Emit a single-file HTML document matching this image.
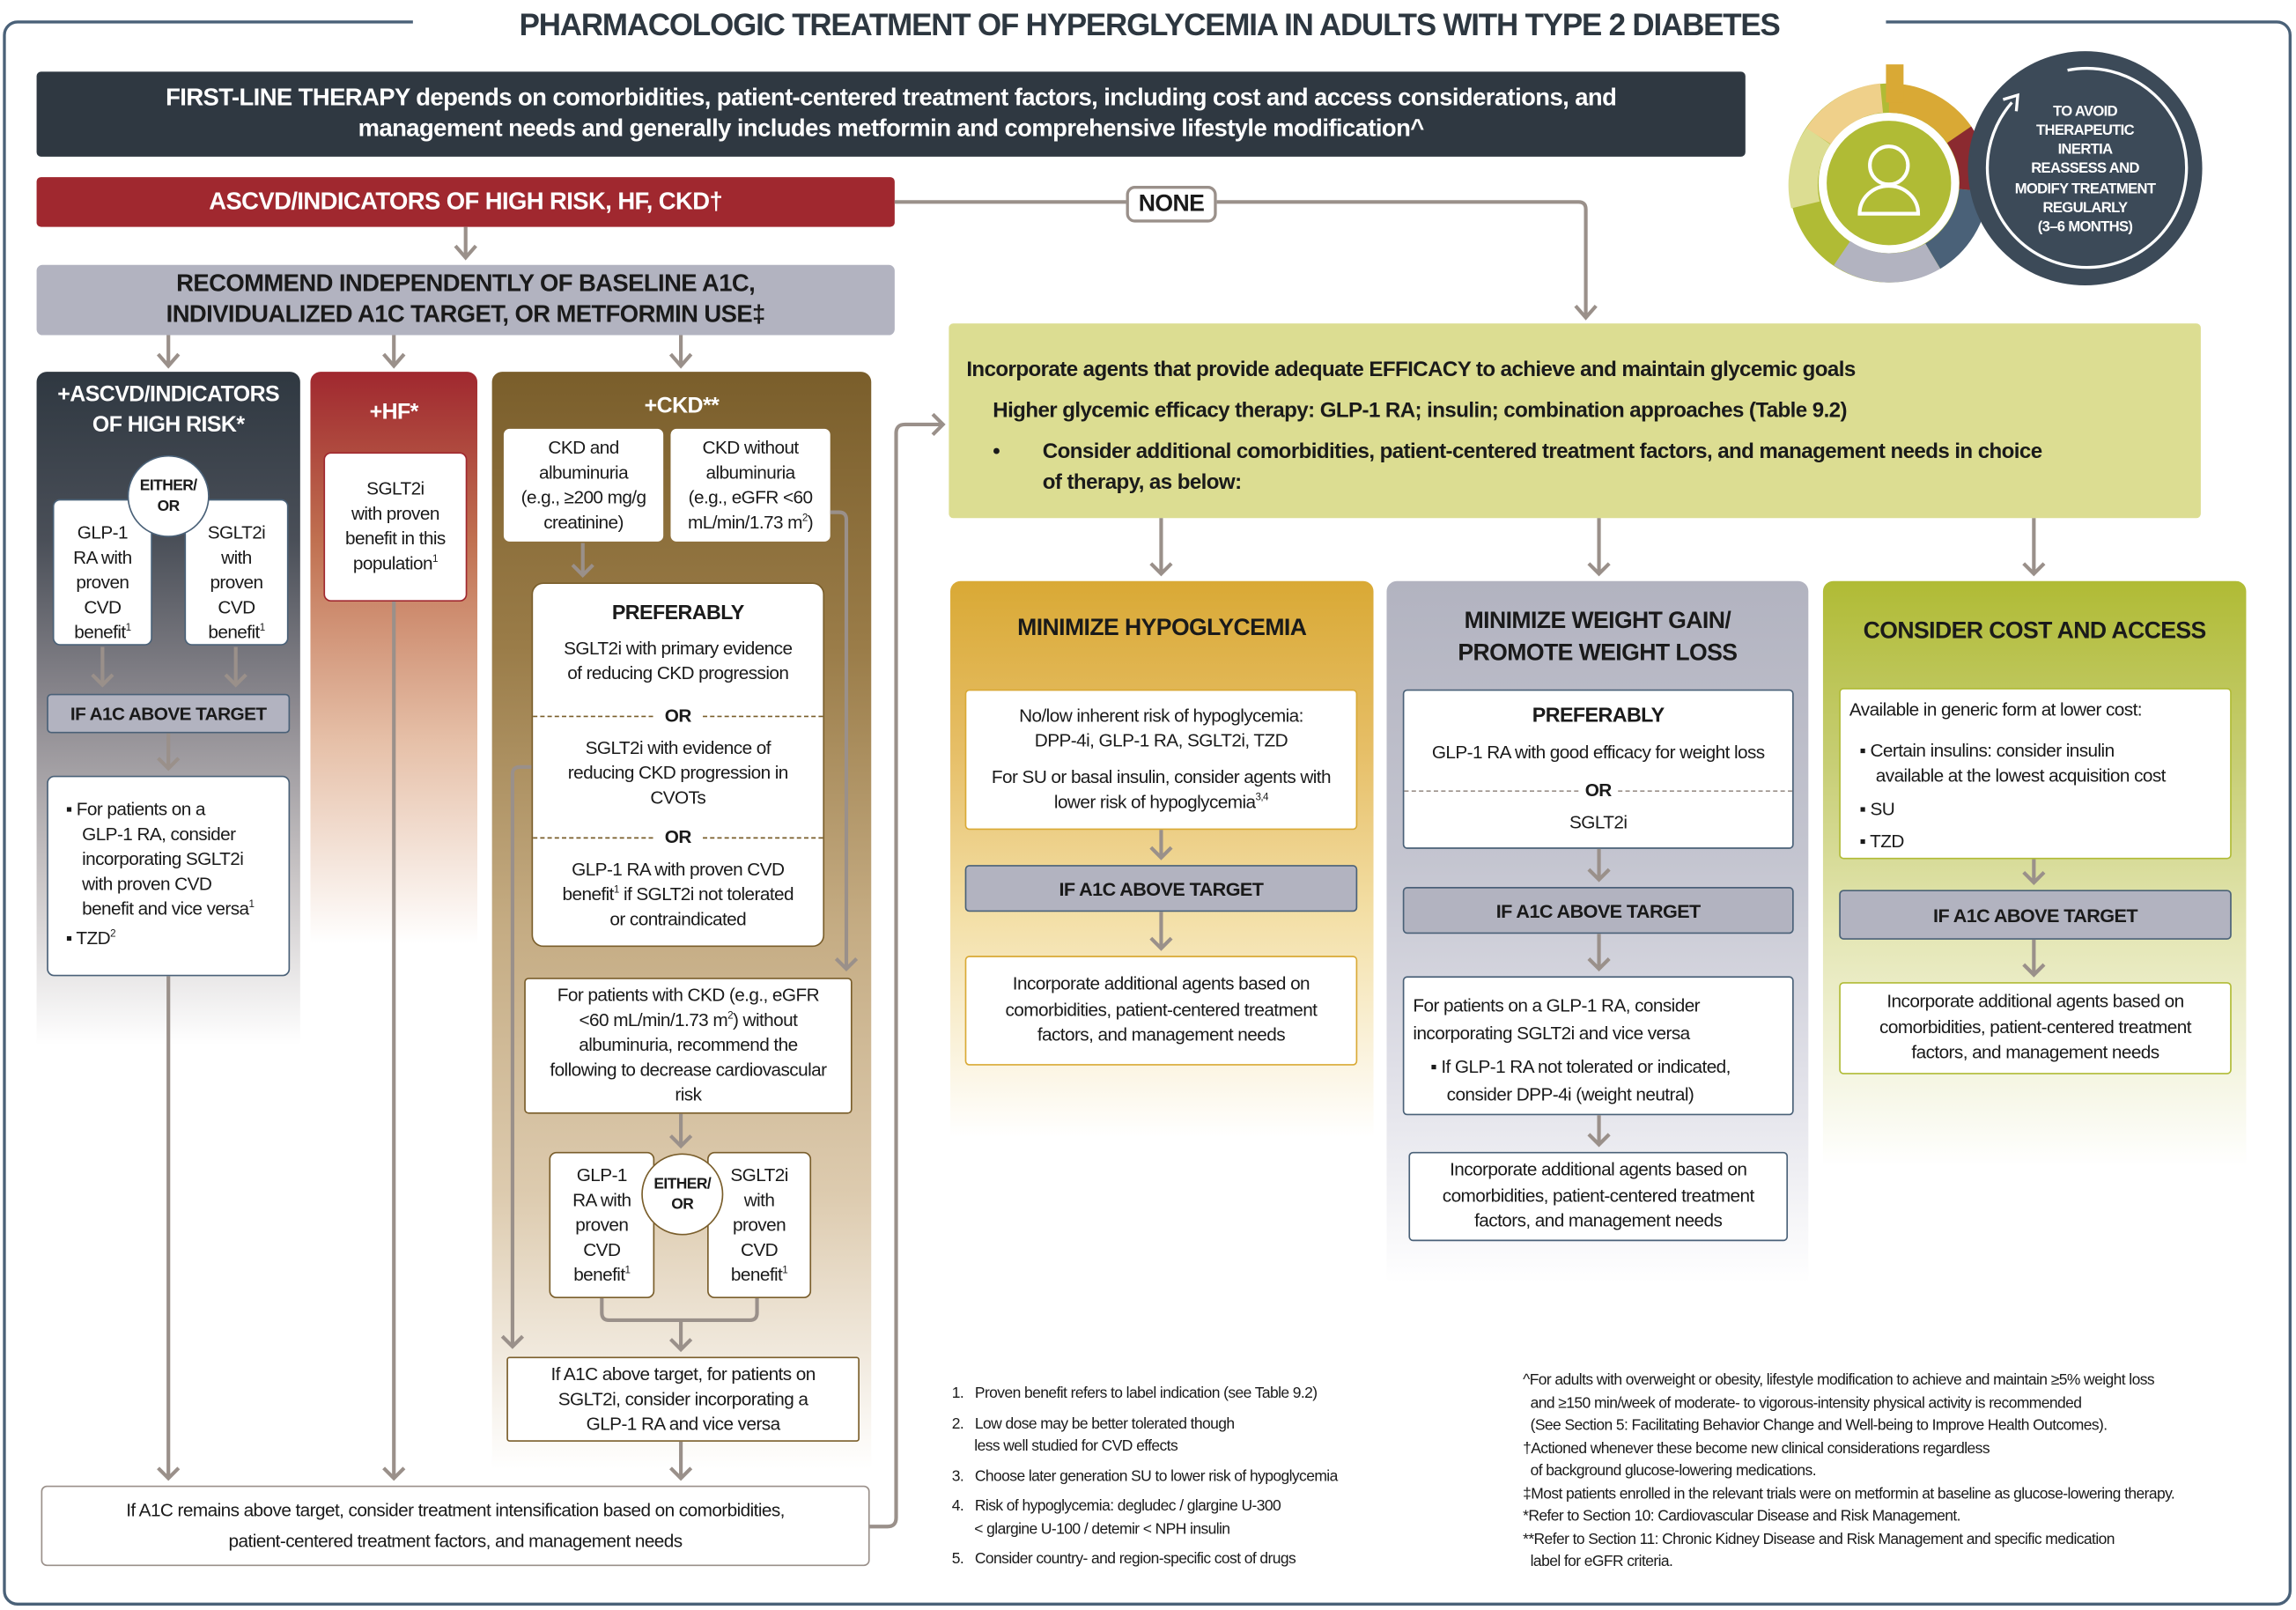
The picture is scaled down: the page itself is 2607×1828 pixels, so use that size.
<!DOCTYPE html>
<html><head><meta charset="utf-8">
<style>
html,body{margin:0;padding:0;background:#fff;}
body{width:2607px;height:1828px;overflow:hidden;position:relative;}
#s{position:absolute;left:0;top:0;width:1568px;height:1100px;transform-origin:0 0;transform:scale(1.6626,1.6618);font-family:"Liberation Sans",sans-serif;color:#1a1a1a;letter-spacing:-0.35px;}
.a{position:absolute;box-sizing:border-box;}
.c{display:flex;align-items:center;justify-content:center;text-align:center;flex-direction:column;}
.b{font-weight:bold;}
.wb{background:#fff;border-radius:5px;}
.bar{background:#b2b3c0;border-radius:3px;font-weight:bold;font-size:13px;}
sup{font-size:7px;line-height:0;}
.fn{font-size:10.5px;line-height:15.5px;}
</style></head><body><div id="s">
<div class="a" style="left:2px;top:14px;width:1563px;height:1083px;border:2px solid #4a6178;border-radius:10px;"></div>
<div class="a c b" style="left:282px;top:2px;width:1006px;height:32px;background:#fff;font-size:21px;color:#2d3740;letter-spacing:-0.7px;"><div>PHARMACOLOGIC TREATMENT OF HYPERGLYCEMIA IN ADULTS WITH TYPE 2 DIABETES</div></div>

<div class="a c b" style="left:25px;top:49px;width:1167px;height:58px;background:#2f3841;color:#fff;font-size:16.5px;line-height:21px;border-radius:3px;"><div>FIRST-LINE THERAPY depends on comorbidities, patient-centered treatment factors, including cost and access considerations, and<br>management needs and generally includes metformin and comprehensive lifestyle modification^</div></div>

<div class="a c b" style="left:25px;top:121px;width:586px;height:34px;background:#a0282f;color:#fff;font-size:16.5px;border-radius:3px;"><div>ASCVD/INDICATORS OF HIGH RISK, HF, CKD†</div></div>
<div class="a c b" style="left:25px;top:181px;width:586px;height:48px;background:#b2b3c0;font-size:16.5px;line-height:21px;border-radius:4px;"><div>RECOMMEND INDEPENDENTLY OF BASELINE A1C,<br>INDIVIDUALIZED A1C TARGET, OR METFORMIN USE‡</div></div>

<div class="a" style="left:25px;top:254px;width:180px;height:460px;border-radius:7px 7px 0 0;background:linear-gradient(#2f3841 0%,#4a4f58 25%,#8d8a90 50%,#c9c5c6 75%,#fff 100%);"></div>
<div class="a c b" style="left:25px;top:258px;width:180px;height:44px;color:#fff;font-size:15px;line-height:21px;"><div>+ASCVD/INDICATORS<br>OF HIGH RISK*</div></div>
<div class="a" style="left:212px;top:254px;width:114px;height:460px;border-radius:7px 7px 0 0;background:linear-gradient(#a0282f 0%,#c07050 25%,#e6c0a8 55%,#fff 85%);"></div>
<div class="a c b" style="left:212px;top:266px;width:114px;height:30px;color:#fff;font-size:15px;"><div>+HF*</div></div>
<div class="a" style="left:336px;top:254px;width:259px;height:750px;border-radius:7px 7px 0 0;background:linear-gradient(#7a5e2b 0%,#9a7c48 25%,#c4ab82 50%,#ddcbaf 75%,#fff 100%);"></div>
<div class="a c b" style="left:336px;top:262px;width:259px;height:30px;color:#fff;font-size:15px;"><div>+CKD**</div></div>

<div class="a c wb" style="left:36px;top:341px;width:68px;height:100px;font-size:12.5px;line-height:17px;border:1px solid #4a6178;padding-top:14px;"><div>GLP-1<br>RA with<br>proven<br>CVD<br>benefit<sup>1</sup></div></div>
<div class="a c wb" style="left:126px;top:341px;width:71px;height:100px;font-size:12.5px;line-height:17px;border:1px solid #4a6178;padding-top:14px;"><div>SGLT2i<br>with<br>proven<br>CVD<br>benefit<sup>1</sup></div></div>
<div class="a c b" style="left:87px;top:311px;width:56px;height:56px;border-radius:50%;background:#fff;border:1.5px solid #4a6178;font-size:10.5px;line-height:14px;"><div>EITHER/<br>OR</div></div>
<div class="a c bar" style="left:32px;top:474px;width:166px;height:27px;border:1px solid #4a6178;font-size:12.5px;"><div>IF A1C ABOVE TARGET</div></div>
<div class="a wb" style="left:32px;top:530px;width:166px;height:137px;border:1px solid #4a6178;font-size:12.5px;line-height:17px;padding:14px 2px 0 12px;">
<div style="padding-left:11px;text-indent:-11px;">▪ For patients on a<br>GLP-1 RA, consider<br>incorporating SGLT2i<br>with proven CVD<br>benefit and vice versa<sup>1</sup></div>
<div style="margin-top:3px;">▪ TZD<sup>2</sup></div></div>

<div class="a c wb" style="left:221px;top:309px;width:98px;height:102px;border:1.5px solid #a0282f;font-size:12.5px;line-height:17px;"><div>SGLT2i<br>with proven<br>benefit in this<br>population<sup>1</sup></div></div>

<div class="a c wb" style="left:344px;top:293px;width:109px;height:77px;font-size:12.5px;line-height:17px;border-radius:4px;"><div>CKD and<br>albuminuria<br>(e.g., ≥200 mg/g<br>creatinine)</div></div>
<div class="a c wb" style="left:458px;top:293px;width:109px;height:77px;font-size:12.5px;line-height:17px;border-radius:4px;"><div>CKD without<br>albuminuria<br>(e.g., eGFR &lt;60<br>mL/min/1.73 m<sup>2</sup>)</div></div>
<div class="a wb" style="left:363px;top:398px;width:200px;height:249px;border:1px solid #7a5e2b;border-radius:8px;font-size:12.5px;line-height:17px;text-align:center;">
<div class="b" style="font-size:14px;margin-top:11px;">PREFERABLY</div>
<div style="margin-top:8px;">SGLT2i with primary evidence<br>of reducing CKD progression</div>
<div style="margin-top:12px;display:flex;align-items:center;"><span style="flex:1;border-top:1.5px dashed #7a5e2b;"></span><b style="padding:0 8px;">OR</b><span style="flex:1;border-top:1.5px dashed #7a5e2b;"></span></div>
<div style="margin-top:5px;">SGLT2i with evidence of<br>reducing CKD progression in<br>CVOTs</div>
<div style="margin-top:10px;display:flex;align-items:center;"><span style="flex:1;border-top:1.5px dashed #7a5e2b;"></span><b style="padding:0 8px;">OR</b><span style="flex:1;border-top:1.5px dashed #7a5e2b;"></span></div>
<div style="margin-top:5px;">GLP-1 RA with proven CVD<br>benefit<sup>1</sup> if SGLT2i not tolerated<br>or contraindicated</div></div>
<div class="a c wb" style="left:358px;top:668px;width:224px;height:93px;border:1px solid #7a5e2b;border-radius:3px;font-size:12.5px;line-height:17px;"><div>For patients with CKD (e.g., eGFR<br>&lt;60 mL/min/1.73 m<sup>2</sup>) without<br>albuminuria, recommend the<br>following to decrease cardiovascular<br>risk</div></div>
<div class="a c wb" style="left:375px;top:787px;width:72px;height:100px;border:1px solid #7a5e2b;font-size:12.5px;line-height:17px;"><div>GLP-1<br>RA with<br>proven<br>CVD<br>benefit<sup>1</sup></div></div>
<div class="a c wb" style="left:483px;top:787px;width:71px;height:100px;border:1px solid #7a5e2b;font-size:12.5px;line-height:17px;"><div>SGLT2i<br>with<br>proven<br>CVD<br>benefit<sup>1</sup></div></div>
<div class="a c b" style="left:438px;top:788px;width:56px;height:56px;border-radius:50%;background:#fff;border:1.5px solid #7a5e2b;font-size:10.5px;line-height:14px;"><div>EITHER/<br>OR</div></div>
<div class="a c" style="left:346px;top:927px;width:241px;height:58px;background:#fff;border:1px solid #7a5e2b;border-radius:2px;font-size:12.5px;line-height:17px;"><div>If A1C above target, for patients on<br>SGLT2i, consider incorporating a<br>GLP-1 RA and vice versa</div></div>

<div class="a c" style="left:28px;top:1015px;width:566px;height:55px;background:#fff;border:1px solid #9a908a;border-radius:4px;font-size:12.5px;line-height:21px;"><div>If A1C remains above target, consider treatment intensification based on comorbidities,<br>patient-centered treatment factors, and management needs</div></div>

<div class="a c b" style="left:769px;top:127px;width:62px;height:25px;border:2px solid #9a908a;border-radius:6px;background:#fff;font-size:16px;"><div>NONE</div></div>

<div class="a b" style="left:648px;top:221px;width:855px;height:133px;background:#dcdd92;border-radius:3px;font-size:14.5px;line-height:21px;padding:22px 12px 0 12px;">
<div>Incorporate agents that provide adequate EFFICACY to achieve and maintain glycemic goals</div>
<div style="margin-top:7px;padding-left:18px;">Higher glycemic efficacy therapy: GLP-1 RA; insulin; combination approaches (Table 9.2)</div>
<div style="margin-top:7px;padding-left:52px;position:relative;"><span style="position:absolute;left:18px;">•</span>Consider additional comorbidities, patient-centered treatment factors, and management needs in choice<br>of therapy, as below:</div></div>

<div class="a" style="left:649px;top:397px;width:289px;height:380px;border-radius:7px 7px 0 0;background:linear-gradient(#d9a935 0%,#e6be66 30%,#f3dfa6 60%,#fff 100%);"></div>
<div class="a c b" style="left:649px;top:410px;width:289px;height:40px;font-size:16px;"><div>MINIMIZE HYPOGLYCEMIA</div></div>
<div class="a" style="left:947px;top:397px;width:288px;height:480px;border-radius:7px 7px 0 0;background:linear-gradient(#b2b3c0 0%,#c4c5d0 40%,#e0e0e8 70%,#fff 100%);"></div>
<div class="a c b" style="left:947px;top:413px;width:288px;height:46px;font-size:16px;line-height:22px;"><div>MINIMIZE WEIGHT GAIN/<br>PROMOTE WEIGHT LOSS</div></div>
<div class="a" style="left:1245px;top:397px;width:289px;height:400px;border-radius:7px 7px 0 0;background:linear-gradient(#b0bb35 0%,#c6cd72 30%,#e4e6b4 60%,#fff 100%);"></div>
<div class="a c b" style="left:1245px;top:412px;width:289px;height:40px;font-size:16px;"><div>CONSIDER COST AND ACCESS</div></div>

<div class="a c wb" style="left:659px;top:471px;width:268px;height:96px;border:1px solid #d9a935;border-radius:3px;font-size:12.5px;line-height:17.5px;"><div>No/low inherent risk of hypoglycemia:<br>DPP-4i, GLP-1 RA, SGLT2i, TZD</div><div style="margin-top:7px;">For SU or basal insulin, consider agents with<br>lower risk of hypoglycemia<sup>3,4</sup></div></div>
<div class="a c bar" style="left:659px;top:591px;width:268px;height:32px;border:1px solid #4a6178;"><div>IF A1C ABOVE TARGET</div></div>
<div class="a c wb" style="left:659px;top:653px;width:268px;height:75px;border:1px solid #d9a935;border-radius:3px;font-size:12.5px;line-height:17.5px;"><div>Incorporate additional agents based on<br>comorbidities, patient-centered treatment<br>factors, and management needs</div></div>

<div class="a wb" style="left:958px;top:471px;width:267px;height:109px;border:1px solid #4a6178;border-radius:3px;font-size:12.5px;line-height:17px;text-align:center;">
<div class="b" style="font-size:14px;margin-top:8px;">PREFERABLY</div>
<div style="margin-top:9px;">GLP-1 RA with good efficacy for weight loss</div>
<div style="margin-top:9px;display:flex;align-items:center;"><span style="flex:1;border-top:1px dashed #9a908a;"></span><b style="padding:0 4px;">OR</b><span style="flex:1;border-top:1px dashed #9a908a;"></span></div>
<div style="margin-top:5px;">SGLT2i</div></div>
<div class="a c bar" style="left:958px;top:606px;width:267px;height:32px;border:1px solid #4a6178;"><div>IF A1C ABOVE TARGET</div></div>
<div class="a wb" style="left:958px;top:667px;width:267px;height:95px;border:1px solid #4a6178;border-radius:3px;font-size:12.5px;line-height:18.5px;padding:10px 6px 0 6px;">
<div>For patients on a GLP-1 RA, consider<br>incorporating SGLT2i and vice versa</div>
<div style="margin-top:5px;padding-left:23px;text-indent:-11px;">▪ If GLP-1 RA not tolerated or indicated,<br>consider DPP-4i (weight neutral)</div></div>
<div class="a c wb" style="left:962px;top:787px;width:259px;height:61px;border:1px solid #4a6178;border-radius:3px;font-size:12.5px;line-height:17.5px;"><div>Incorporate additional agents based on<br>comorbidities, patient-centered treatment<br>factors, and management needs</div></div>

<div class="a wb" style="left:1256px;top:470px;width:268px;height:117px;border:1px solid #b0bb35;border-radius:3px;font-size:12.5px;line-height:17.5px;padding:6px 6px 0 6px;">
<div>Available in generic form at lower cost:</div>
<div style="margin-top:10px;padding-left:18px;text-indent:-11px;">▪ Certain insulins: consider insulin<br>available at the lowest acquisition cost</div>
<div style="margin-top:5px;padding-left:7px;">▪ SU</div>
<div style="margin-top:5px;padding-left:7px;">▪ TZD</div></div>
<div class="a c bar" style="left:1256px;top:608px;width:268px;height:34px;border:1px solid #4a6178;"><div>IF A1C ABOVE TARGET</div></div>
<div class="a c wb" style="left:1256px;top:671px;width:268px;height:63px;border:1px solid #b0bb35;border-radius:3px;font-size:12.5px;line-height:17.5px;"><div>Incorporate additional agents based on<br>comorbidities, patient-centered treatment<br>factors, and management needs</div></div>

<svg class="a" style="left:0;top:0;" width="1568" height="1100" viewBox="0 0 1568 1100">
<g fill="none" stroke="#9a908a" stroke-width="2.5" stroke-linejoin="round">
<path d="M611 138H769M831 138H1078q5 0 5 5V217"/>
<path d="M318 155V176M115 229V249M269 229V249M465 229V249"/>
<path d="M70 442V468M161 442V468M115 501V525"/>
<path d="M115 667V1010M269 411V1010"/>
<path d="M398 371V393"/>
<path d="M567 350h6q5 0 5 5V662"/>
<path d="M363 524h-8q-5 0-5 5V920"/>
<path d="M465 761V783"/>
<path d="M411 887v10q0 5 5 5h96q5 0 5-5v-10M465 902V922"/>
<path d="M465 985V1010"/>
<path d="M594 1043h12q6 0 6-6V296q0-6 6-6h26"/>
<path d="M793 354V392M1092 354V392M1389 354V392"/>
<path d="M793 567V586M793 623V648M1092 580V601M1092 638V662M1092 762V782M1389 587V603M1389 642V666"/>
</g>
<g fill="none" stroke="#9a908a" stroke-width="2.5">
<path d="M311 168l7 8 7-8M1076 209l7 8 7-8M108 242l7 8 7-8M262 242l7 8 7-8M458 242l7 8 7-8"/>
<path d="M63 461l7 7 7-7M154 461l7 7 7-7M108 518l7 7 7-7M108 1003l7 7 7-7M262 1003l7 7 7-7"/>
<path d="M391 386l7 7 7-7M571 655l7 7 7-7M343 913l7 7 7-7M458 776l7 7 7-7M458 915l7 7 7-7M458 1003l7 7 7-7"/>
<path d="M637 283l7 7-7 7"/>
<path d="M786 385l7 7 7-7M1085 385l7 7 7-7M1382 385l7 7 7-7"/>
<path d="M786 579l7 7 7-7M786 641l7 7 7-7M1085 594l7 7 7-7M1085 655l7 7 7-7M1085 775l7 7 7-7M1382 596l7 7 7-7M1382 659l7 7 7-7"/>
</g>
<g>
<circle cx="1290" cy="125" r="58" fill="none" stroke="#b0bb35" stroke-width="20"/>
<path d="M1290 67 A58 58 0 0 1 1338 92" fill="none" stroke="#d9a935" stroke-width="20"/>
<path d="M1338 92 A58 58 0 0 1 1348 130" fill="none" stroke="#8b2a30" stroke-width="20"/>
<path d="M1348 130 A58 58 0 0 1 1320 175" fill="none" stroke="#4a6178" stroke-width="20"/>
<path d="M1320 175 A58 58 0 0 1 1258 173" fill="none" stroke="#b2b3c0" stroke-width="20"/>
<path d="M1233 140 A58 58 0 0 1 1242 93" fill="none" stroke="#dcdd92" stroke-width="20"/>
<path d="M1242 93 A58 58 0 0 1 1285 67" fill="none" stroke="#efd08a" stroke-width="20"/>
<rect x="1288" y="44" width="12" height="26" fill="#d9a935"/>
<circle cx="1290" cy="125" r="44" fill="#b0bb35" stroke="#fff" stroke-width="3"/>
<circle cx="1290" cy="113" r="13" fill="none" stroke="#fff" stroke-width="2.5"/>
<path d="M1270 146a20 19 0 0 1 40 0z" fill="none" stroke="#fff" stroke-width="2.5"/>
<circle cx="1424" cy="115" r="80" fill="#3c4a58"/>
<path d="M1412 48 A68 68 0 1 1 1374 70" fill="none" stroke="#fff" stroke-width="2"/>
<path d="M1368 68l10-3 -1 11" fill="none" stroke="#fff" stroke-width="2"/>
</g>
</svg>
<div class="a c b" style="left:1374px;top:68px;width:100px;height:96px;color:#fff;font-size:10px;line-height:13.2px;letter-spacing:-0.4px;"><div>TO AVOID<br>THERAPEUTIC<br>INERTIA<br>REASSESS AND<br>MODIFY TREATMENT<br>REGULARLY<br>(3–6 MONTHS)</div></div>

<div class="a fn" style="left:650px;top:945px;width:380px;">
<div>1.&nbsp;&nbsp;&nbsp;Proven benefit refers to label indication (see Table 9.2)</div>
<div style="margin-top:5px;">2.&nbsp;&nbsp;&nbsp;Low dose may be better tolerated though<br>&nbsp;&nbsp;&nbsp;&nbsp;&nbsp;&nbsp;less well studied for CVD effects</div>
<div style="margin-top:5px;">3.&nbsp;&nbsp;&nbsp;Choose later generation SU to lower risk of hypoglycemia</div>
<div style="margin-top:5px;">4.&nbsp;&nbsp;&nbsp;Risk of hypoglycemia: degludec / glargine U-300<br>&nbsp;&nbsp;&nbsp;&nbsp;&nbsp;&nbsp;&lt; glargine U-100 / detemir &lt; NPH insulin</div>
<div style="margin-top:5px;">5.&nbsp;&nbsp;&nbsp;Consider country- and region-specific cost of drugs</div></div>
<div class="a fn" style="left:1040px;top:936px;width:525px;white-space:nowrap;">
<div>^For adults with overweight or obesity, lifestyle modification to achieve and maintain ≥5% weight loss</div>
<div>&nbsp;&nbsp;and ≥150 min/week of moderate- to vigorous-intensity physical activity is recommended</div>
<div>&nbsp;&nbsp;(See Section 5: Facilitating Behavior Change and Well-being to Improve Health Outcomes).</div>
<div>†Actioned whenever these become new clinical considerations regardless</div>
<div>&nbsp;&nbsp;of background glucose-lowering medications.</div>
<div>‡Most patients enrolled in the relevant trials were on metformin at baseline as glucose-lowering therapy.</div>
<div>*Refer to Section 10: Cardiovascular Disease and Risk Management.</div>
<div>**Refer to Section 11: Chronic Kidney Disease and Risk Management and specific medication</div>
<div>&nbsp;&nbsp;label for eGFR criteria.</div></div>
</div></body></html>
